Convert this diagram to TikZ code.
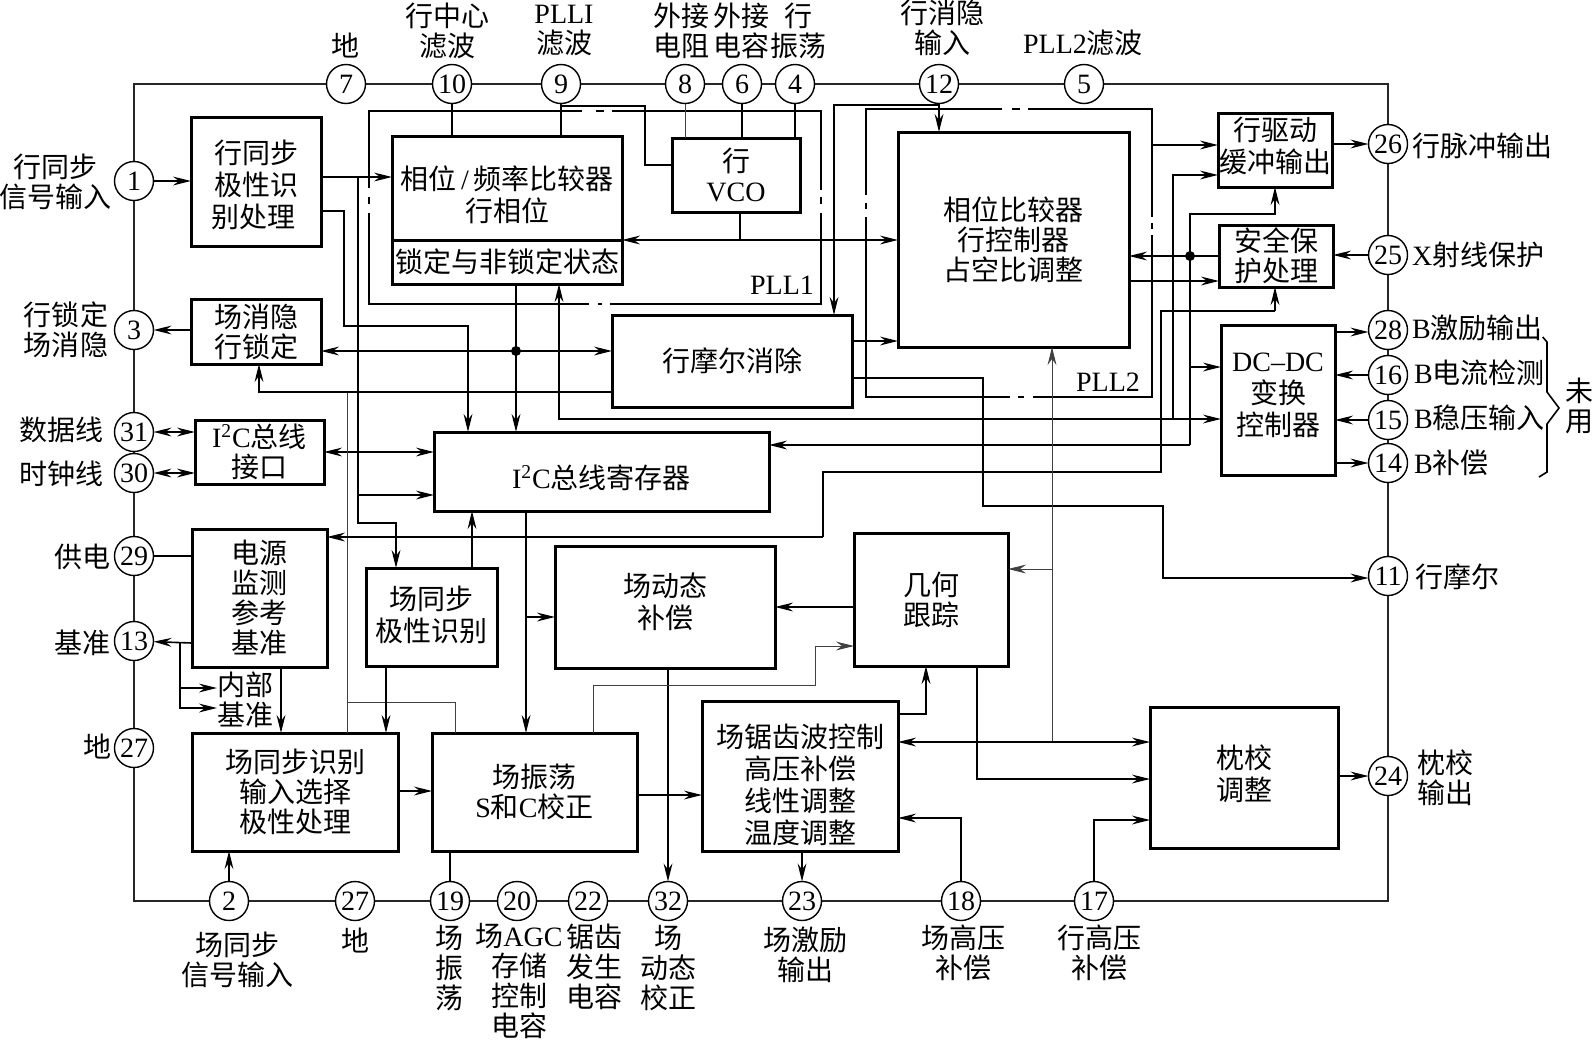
\documentclass[tikz,border=0pt]{standalone}
\usepackage{fontspec}
\setmainfont{Noto Sans CJK SC}
\newfontfamily\latf{Liberation Serif}
\newcommand\lat[1]{{\latf #1}}
\usetikzlibrary{arrows.meta}
\tikzset{
  x=0.5pt,y=-0.5pt,
  blk/.style={draw=black,line width=1.5pt,outer sep=0pt,inner sep=0pt,align=center,font=\fontsize{14}{15}\selectfont},
  cir/.style={circle,draw=black,fill=white,line width=0.7pt,minimum size=19.5pt,inner sep=0pt,outer sep=0pt,font=\latf\fontsize{14}{14}\selectfont},
  lbl/.style={inner sep=0pt,outer sep=0pt,align=center,font=\fontsize{14}{15}\selectfont},
  wire/.style={draw=black,line width=0.8pt},
  thin wire/.style={draw=black!75,line width=0.5pt},
  frameline/.style={draw=black!85,line width=0.7pt},
  pll/.style={draw=black,line width=0.6pt},
  tip/.style={-{Stealth[length=9pt,width=4.4pt,inset=3pt]}},
  tipb/.style={{Stealth[length=9pt,width=4.4pt,inset=3pt]}-{Stealth[length=9pt,width=4.4pt,inset=3pt]}},
  dotj/.style={circle,fill=black,inner sep=0pt,minimum size=5pt,outer sep=0pt},
}
\newcommand\bx[6]{\node[blk,minimum width={(#4-#2)*0.5pt},minimum height={(#5-#3)*0.5pt}] (#1) at ({(#2+#4)/2},{(#3+#5)/2}) {#6};}
\newcommand\cn[4]{\node[cir] (#1) at (#2,#3) {#4};}
\newcommand\tl[4]{\node[lbl] (#1) at (#2,#3) {#4};}
\newcommand\tr[4]{\node[lbl,anchor=west] (#1) at (#2,#3) {#4};}
% text raised by #1 inside a block, without moving the block
\renewcommand\arraystretch{0.94}
\newcommand\rs[2]{\raisebox{\dimexpr #1-6pt\relax}[0pt][0pt]{\begin{tabular}{@{}c@{}}#2\end{tabular}}}
\begin{document}
\begin{tikzpicture}
\useasboundingbox (0,0) rectangle (1593,1039);
% frame
\coordinate (fTL) at (134,84); \coordinate (fTR) at (1388,84);
\coordinate (fBR) at (1388,901); \coordinate (fBL) at (134,901);
\draw[frameline] (fTL)--(fTR)--(fBR)--(fBL)--cycle;
% PLL1 and PLL2 dash-dotted frames
\draw[pll] (582,111)--(369,111)--(369,188) (369,197)--(369,204) (369,213)--(369,304)--(589,304) (598,304)--(602,304) (610,304)--(821,304)--(821,213) (821,204)--(821,197) (821,190)--(821,111)--(612,111) (604,111)--(596,111);
\draw[pll] (1002,109)--(866,109)--(866,195) (866,203)--(866,209) (866,217)--(866,397)--(1010,397) (1018,397)--(1024,397) (1033,397)--(1152,397)--(1152,235) (1152,229)--(1152,223) (1152,217)--(1152,109)--(1028,109) (1020,109)--(1012,109);
% pins
\cn{p7}{346}{84}{7}\cn{p10}{452}{84}{10}\cn{p9}{561}{84}{9}\cn{p8}{685}{84}{8}\cn{p6}{742}{84}{6}\cn{p4}{795}{84}{4}\cn{p12}{939}{84}{12}\cn{p5}{1084}{84}{5}
\cn{p1}{134}{181}{1}\cn{p3}{134}{330}{3}\cn{p31}{134}{432}{31}\cn{p30}{134}{473}{30}\cn{p29}{134}{556}{29}\cn{p13}{134}{641}{13}\cn{p27a}{134}{748}{27}
\cn{p2}{229}{901}{2}\cn{p27b}{355}{901}{27}\cn{p19}{450}{901}{19}\cn{p20}{517}{901}{20}\cn{p22}{588}{901}{22}\cn{p32}{668}{901}{32}\cn{p23}{802}{901}{23}\cn{p18}{961}{901}{18}\cn{p17}{1094}{901}{17}
\cn{p26}{1388}{144}{26}\cn{p25}{1388}{255}{25}\cn{p28}{1388}{330}{28}\cn{p16}{1388}{375}{16}\cn{p15}{1388}{420}{15}\cn{p14}{1388}{463}{14}\cn{p11}{1388}{576}{11}\cn{p24}{1388}{776}{24}
% blocks
\bx{A}{191}{117}{321}{246}{\rs{-1pt}{行同步\\极性识\\别处理\hspace*{3pt}}}
\bx{B}{392}{136}{622}{240}{\rs{-2.5pt}{相位\,\lat{/}\,频率比较器\\行相位}}
\bx{Bl}{392}{240}{622}{284}{锁定与非锁定状态}
\bx{V}{672}{138}{800}{212}{行\\\lat{VCO}}
\bx{C}{191}{299}{321}{364}{场消隐\\行锁定}
\bx{IF}{195}{420}{324}{484}{\lat{I\textsuperscript{2}C}总线\\接口}
\bx{IR}{434}{432}{769}{511}{\rs{-2.5pt}{\lat{I\textsuperscript{2}C}总线寄存器}}
\bx{M}{612}{315}{852}{407}{行摩尔消除}
\bx{P}{898}{132}{1129}{347}{相位比较器\\行控制器\\占空比调整}
\bx{D}{1218}{113}{1332}{187}{\rs{3pt}{行驱动\\缓冲输出}}
\bx{S}{1219}{225}{1333}{287}{安全保\\护处理}
\bx{DC}{1221}{325}{1335}{475}{\rs{3.5pt}{\lat{DC–DC}\\变换\\控制器}}
\bx{PW}{192}{529}{327}{667}{电源\\监测\\参考\\基准}
\bx{VP}{366}{568}{497}{666}{\rs{2pt}{场同步\\极性识别}}
\bx{VD}{555}{546}{775}{668}{\rs{3.5pt}{场动态\\补偿}}
\bx{G}{854}{533}{1008}{666}{几何\\跟踪}
\bx{VS}{192}{733}{398}{851}{场同步识别\\输入选择\\极性处理}
\bx{VO}{432}{733}{637}{851}{场振荡\\\lat{S}和\lat{C}校正}
\bx{SW}{702}{701}{898}{851}{\rs{-3.5pt}{场锯齿波控制\\高压补偿\\线性调整\\温度调整}}
\bx{Z}{1150}{707}{1338}{848}{\rs{2.5pt}{枕校\\调整}}
% text labels
\tl{t7}{345}{46}{地}
\tl{t10}{447}{31}{行中心\\滤波}
\tl{t9}{564}{31}{\lat{PLLI}\\滤波}
\tl{t8}{681}{31}{外接\\电阻}
\tl{t6}{741}{31}{外接\\电容}
\tl{t4}{798}{31}{行\\振荡}
\tl{t12}{942}{28}{行消隐\\输入}
\tl{t5}{1083}{43}{\lat{PLL2}滤波}
\tl{t1}{55}{182}{行同步\\信号输入}
\tl{t3}{66}{330}{行锁定\\场消隐}
\tl{t31}{61}{430}{数据线}
\tl{t30}{61}{474}{时钟线}
\tl{t29}{82}{557}{供电}
\tl{t13}{82}{643}{基准}
\tl{t27a}{97}{747}{地}
\tl{tin}{245}{700}{内部\\基准}
\tl{t2}{237}{960}{场同步\\信号输入}
\tl{t27b}{355}{941}{地}
\tl{t19}{449}{968}{场\\振\\荡}
\tl{t20}{519}{981}{场\lat{AGC}\\存储\\控制\\电容}
\tl{t22}{594}{967}{锯齿\\发生\\电容}
\tl{t32}{668}{968}{场\\动态\\校正}
\tl{t23}{805}{955}{场激励\\输出}
\tl{t18}{963}{953}{场高压\\补偿}
\tl{t17}{1099}{953}{行高压\\补偿}
\tr{t26}{1412}{146}{行脉冲输出}
\tr{t25}{1412}{255}{\lat{X}射线保护}
\tr{t28}{1412}{328}{\lat{B}激励输出}
\tr{t16}{1414}{373}{\lat{B}电流检测}
\tr{t15}{1414}{418}{\lat{B}稳压输入}
\tr{t14}{1414}{463}{\lat{B}补偿}
\tr{t11}{1415}{577}{行摩尔}
\tl{t24}{1445}{778}{枕校\\输出}
\tl{tun}{1579}{406}{未\\用}
\tl{tp1}{782}{285}{\lat{PLL1}}
\tl{tp2}{1108}{382}{\lat{PLL2}}
% brace
\draw[line width=0.8pt] (t28.east |- 0,337) -- (1547,342) -- (1547,392) -- (1559,408) -- (1547,424) -- (1547,472) -- (1539,477);
% connectors: top pins
\draw[wire] (p10) -- (p10 |- B.north);
\draw[wire] (p9) -- (p9 |- B.north);
\draw[wire] (p9 |- 0,106) -- (645,106) -- (645,165) -- (V.west |- 0,165);
\draw[thin wire] (p8) -- (p8 |- V.north);
\draw[wire] (p6) -- (p6 |- V.north);
\draw[wire] (p4) -- (p4 |- V.north);
\draw[wire,tip] (p12) -- (p12 |- P.north);
\draw[wire,tip] (p12 |- 0,105) -- (834,105) -- (834,0 |- M.north);
% left side
\draw[wire,tip] (p1) -- (A.west |- p1);
\draw[wire,tip] (C.west |- p3) -- (p3);
\draw[wire,tipb] (p31) -- (IF.west |- p31);
\draw[wire,tipb] (p30) -- (IF.west |- p30);
\draw[wire] (p29) -- (PW.west |- p29);
\draw[wire,tip] (PW.west |- 0,643) -- (p13);
\draw[wire,tip] (180,643) -- (180,688) -- (tin.west |- 0,688);
\draw[wire,tip] (180,688) -- (180,708) -- (tin.west |- 0,708);
\draw[wire,tip] (p2) -- (p2 |- VS.south);
\draw[wire] (p19) -- (p19 |- VO.south);
\draw[wire,tip] (p23 |- SW.south) -- (p23);
\draw[wire,tip] (p18) -- (p18 |- 0,818) -- (SW.east |- 0,818);
\draw[wire,tip] (p17) -- (p17 |- 0,820) -- (Z.west |- 0,820);
% A, B
\draw[wire,tip] (A.east |- 0,177) -- (B.west |- 0,177);
\draw[wire,tip] (A.east |- 0,211) -- (344,211) -- (344,326) -- (468,326) -- (468,0 |- IR.north);
\draw[wire,tip] (358,177) -- (358,523) -- (396,523) -- (396,0 |- VP.north);
\draw[wire,tip] (358,495) -- (IR.west |- 0,495);
\draw[wire,tipb] (IF.east |- 0,452) -- (IR.west |- 0,452);
\draw[thin wire] (347,392) -- (347,0 |- VS.north);
\draw[thin wire] (347,702) -- (455,702) -- (455,0 |- VO.north);
\draw[wire,tip] (516,0 |- Bl.south) -- (516,0 |- IR.north);
\node[dotj] (j1) at (516,351) {};
\draw[wire,tipb] (C.east |- j1) -- (M.west |- j1);
\draw[wire,tip] (M.west |- 0,392) -- (259,392) -- (259,0 |- C.south);
\draw[wire,tipb] (559,0 |- Bl.south) -- (559,419) -- (DC.west |- 0,419);
\draw[wire,tipb] (B.east |- 0,240) -- (P.west |- 0,240);
\draw[wire] (V.south -| 740,0) -- (740,240);
% right side
\draw[wire,tip] (1173,419) -- (1173,175) -- (D.west |- 0,175);
\draw[wire,tip] (1190,445) -- (IR.east |- 0,445);
\draw[wire,tip] (1190,445) -- (1190,214) -- (1275,214) -- (1275,0 |- D.south);
\node[dotj] (j2) at (1190,256) {};
\draw[wire,tip] (1190,367) -- (DC.west |- 0,367);
\draw[wire,tip] (S.west |- j2) -- (P.east |- j2);
\draw[wire,tip] (P.east |- 0,281) -- (S.west |- 0,281);
\draw[wire,tip] (1152,145) -- (D.west |- 0,145);
\draw[wire,tip] (D.east |- p26) -- (p26);
\draw[wire,tip] (p25) -- (S.east |- p25);
\draw[wire,tip] (DC.east |- 0,332) -- (p28.west |- 0,332);
\draw[wire,tip] (p16) -- (DC.east |- p16);
\draw[wire,tip] (p15) -- (DC.east |- p15);
\draw[wire,tip] (DC.east |- p14) -- (p14);
\draw[wire,tip] (1275,311) -- (1275,0 |- S.south);
\draw[wire] (1275,311) -- (1161,311) -- (1161,472) -- (823,472) -- (823,537);
\draw[wire,tip] (823,537) -- (PW.east |- 0,537);
\draw[wire,tip] (M.east |- 0,341) -- (P.west |- 0,341);
\draw[wire,tip] (M.east |- 0,378) -- (983,378) -- (983,506) -- (1163,506) -- (1163,578) -- (p11.west |- 0,578);
% lower blocks
\draw[wire,tip] (526,0 |- IR.south) -- (526,0 |- VO.north);
\draw[wire,tip] (526,617) -- (VD.west |- 0,617);
\draw[wire,tip] (472,0 |- VP.north) -- (472,0 |- IR.south);
\draw[thin wire,tip] (1052,742) -- (1052,0 |- P.south);
\draw[thin wire,tip] (1052,569) -- (G.east |- 0,569);
\draw[wire,tipb] (SW.east |- 0,742) -- (Z.west |- 0,742);
\draw[wire,tip] (977,0 |- G.south) -- (977,779) -- (Z.west |- 0,779);
\draw[wire,tip] (SW.east |- 0,714) -- (926,714) -- (926,0 |- G.south);
\draw[wire,tip] (Z.east |- p24) -- (p24);
\draw[wire,tip] (VO.east |- 0,795) -- (SW.west |- 0,795);
\draw[wire,tip] (VS.east |- 0,791) -- (VO.west |- 0,791);
\draw[wire,tip] (668,0 |- VD.south) -- (p32);
\draw[wire,tip] (G.west |- 0,607) -- (VD.east |- 0,607);
\draw[thin wire,tip] (593,0 |- VO.north) -- (593,685) -- (815,685) -- (815,646) -- (G.west |- 0,646);
\draw[wire,tip] (281,0 |- PW.south) -- (281,0 |- VS.north);
\draw[wire,tip] (386,0 |- VP.south) -- (386,0 |- VS.north);
\end{tikzpicture}
\end{document}
